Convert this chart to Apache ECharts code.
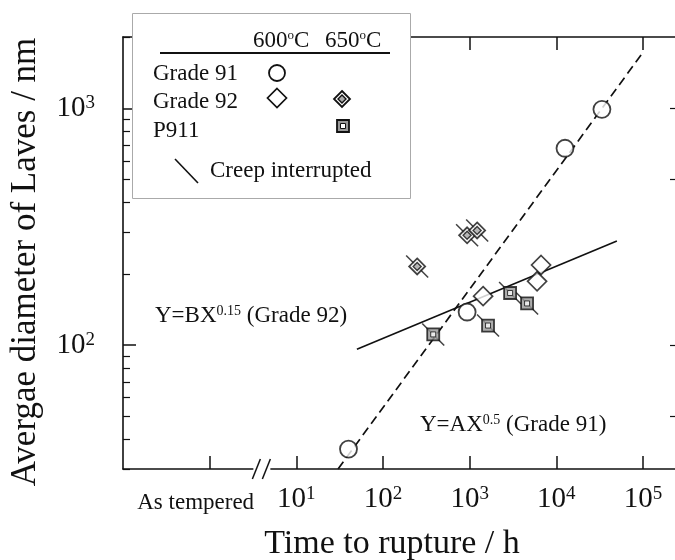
<!DOCTYPE html>
<html><head><meta charset="utf-8">
<script src="https://cdn.jsdelivr.net/npm/echarts@6/dist/echarts.min.js"></script>
<style>html,body{margin:0;padding:0;background:#fff}#c{width:675px;height:560px}</style>
</head><body><div id="c"></div>
<script>
// ---- data (time to rupture / h, average Laves diameter / nm) ----
const grade91_600_time = [40, 935, 12600, 33600];
const grade91_600_diam = [36.4, 138, 678, 990];
const grade92_600_time = [1430, 6000, 6670];
const grade92_600_diam = [161, 186, 218];
const grade92_650_time = [248, 935, 1220];
const grade92_650_diam = [215, 291, 305];
const p911_650_time = [380, 1630, 2930, 4600];
const p911_650_diam = [111, 121, 166, 150];
// fitted lines (end points)
const fitA_time = [30.3, 100000];
const fitA_diam = [30, 1722];
const fitB_time = [50, 50000];
const fitB_diam = [96, 275];
// axes
const xTickValues = [1, 10, 100, 1000, 10000, 100000];
const xTickLabels = ['As tempered', '10^1', '10^2', '10^3', '10^4', '10^5'];
const yMajorValues = [100, 1000];
const yMajorLabels = ['10^2', '10^3'];
const yMinorValues = [30, 40, 50, 60, 70, 80, 90, 200, 300, 400, 500, 600, 700, 800, 900, 2000];
const yRightValues = [50, 100, 500, 1000];
const xMin = 0.1, xMax = 247000, yMin = 30, yMax = 2000;
const BREAK_AT = 3.95;

const FONT = "'Liberation Serif', 'Times New Roman', serif";
const INK = '#111';
const pairs = (xs, ys) => xs.map((x, i) => [x, ys[i]]);
function supLabel(s) {
  const p = s.split('^');
  return p.length > 1 ? '{b|' + p[0] + '}{s|' + p[1] + '}' : '{at|' + s + '}';
}
function findLabel(vals, labels, v) {
  const i = vals.findIndex(t => Math.abs(Math.log10(t) - Math.log10(v)) < 1e-6);
  return i < 0 ? '' : supLabel(labels[i]);
}
const tickRich = {
  b: { fontSize: 29, fontFamily: FONT, color: INK },
  s: { fontSize: 19, fontFamily: FONT, color: INK, verticalAlign: 'top' },
  at: { fontSize: 23, fontFamily: FONT, color: INK, padding: [6, 28, 0, 0] }
};
const lineAx = { show: true, onZero: false, lineStyle: { color: INK, width: 1.6 } };
const SLASH = 'path://M0,0L10,10';

const chart = echarts.init(document.getElementById('c'), null, { renderer: 'canvas' });
const option = {
  backgroundColor: '#fff',
  animation: false,
  grid: { left: 123, top: 37, right: -2, bottom: 91, containLabel: false, outerBoundsMode: 'none' },
  xAxis: [
    { type: 'log', min: xMin, max: xMax, position: 'bottom',
      axisLine: lineAx,
      axisTick: { show: true, inside: true, length: 13, customValues: xTickValues, lineStyle: { color: INK, width: 1.5 } },
      axisLabel: { show: true, customValues: xTickValues, margin: 16, rich: tickRich,
        formatter: v => findLabel(xTickValues, xTickLabels, v) },
      splitLine: { show: false }, minorTick: { show: false },
      name: 'Time to rupture / h', nameLocation: 'middle', nameGap: 58,
      nameTextStyle: { fontSize: 34, fontFamily: FONT, color: INK, padding: [0, 16, 0, 0] } },
    { type: 'log', min: xMin, max: xMax, position: 'top',
      axisLine: lineAx,
      axisTick: { show: true, inside: true, length: 13, customValues: xTickValues, lineStyle: { color: INK, width: 1.5 } },
      axisLabel: { show: false }, splitLine: { show: false } }
  ],
  yAxis: [
    { type: 'log', min: yMin, max: yMax, position: 'left',
      axisLine: lineAx,
      axisTick: { show: true, inside: true, length: 13, customValues: yMajorValues, lineStyle: { color: INK, width: 1.5 } },
      axisLabel: { show: true, customValues: yMajorValues, margin: 28, rich: tickRich,
        formatter: v => findLabel(yMajorValues, yMajorLabels, v) },
      splitLine: { show: false },
      name: 'Avergae diameter of Laves / nm', nameLocation: 'middle', nameGap: 80,
      nameTextStyle: { fontSize: 35, fontFamily: FONT, color: INK, padding: [0, 18, 0, 0] } },
    { type: 'log', min: yMin, max: yMax, position: 'left',
      axisLine: { show: false },
      axisTick: { show: true, inside: true, length: 7, customValues: yMinorValues, lineStyle: { color: INK, width: 1.2 } },
      axisLabel: { show: false }, splitLine: { show: false } },
    { type: 'log', min: yMin, max: yMax, position: 'right',
      axisLine: lineAx,
      axisTick: { show: true, inside: true, length: 7, customValues: yRightValues, lineStyle: { color: INK, width: 1.2 } },
      axisLabel: { show: false }, splitLine: { show: false } }
  ],
  series: [
    { type: 'line', name: 'fitA', data: pairs(fitA_time, fitA_diam), showSymbol: false, symbol: 'none', z: 1,
      lineStyle: { color: INK, width: 1.7, type: [9, 5] }, silent: true },
    { type: 'line', name: 'fitB', data: pairs(fitB_time, fitB_diam), showSymbol: false, symbol: 'none', z: 1,
      lineStyle: { color: INK, width: 1.6 }, silent: true },
    // creep interrupted slashes
    { type: 'scatter', data: pairs(grade92_650_time, grade92_650_diam), symbol: SLASH, symbolSize: 22, z: 2,
      itemStyle: { color: 'rgba(0,0,0,0)', borderColor: INK, borderWidth: 1.5 } },
    { type: 'scatter', data: pairs(p911_650_time, p911_650_diam), symbol: SLASH, symbolSize: 22, z: 2,
      itemStyle: { color: 'rgba(0,0,0,0)', borderColor: INK, borderWidth: 1.5 } },
    // Grade 91, 600C
    { type: 'scatter', data: pairs(grade91_600_time, grade91_600_diam), symbol: 'circle', symbolSize: 17, z: 3,
      itemStyle: { color: '#fff', borderColor: INK, borderWidth: 1.8 } },
    // Grade 92, 600C
    { type: 'scatter', data: pairs(grade92_600_time, grade92_600_diam), symbol: 'diamond', symbolSize: 19, z: 3,
      itemStyle: { color: '#fff', borderColor: INK, borderWidth: 1.7 } },
    // Grade 92, 650C
    { type: 'scatter', data: pairs(grade92_650_time, grade92_650_diam), symbol: 'diamond', symbolSize: 16, z: 3,
      itemStyle: { color: '#fff', borderColor: INK, borderWidth: 1.8 } },
    { type: 'scatter', data: pairs(grade92_650_time, grade92_650_diam), symbol: 'diamond', symbolSize: 8, z: 4,
      itemStyle: { color: '#aaa', borderColor: INK, borderWidth: 1.4 } },
    // P911, 650C
    { type: 'scatter', data: pairs(p911_650_time, p911_650_diam), symbol: 'rect', symbolSize: 12, z: 3,
      itemStyle: { color: '#999', borderColor: INK, borderWidth: 1.8 } },
    { type: 'scatter', data: pairs(p911_650_time, p911_650_diam), symbol: 'rect', symbolSize: 5, z: 4,
      itemStyle: { color: '#fff', borderColor: INK, borderWidth: 1 } }
  ]
};
chart.setOption(option);

// ---- decorations: legend table, fit annotations, axis break ----
const txt = (x, y, text, rich, size) => ({
  type: 'text', x: x, y: y, z: 101,
  style: { text: text, font: (size || 23) + 'px ' + FONT, fill: INK, verticalAlign: 'middle', align: 'left', rich: rich || {} }
});
const degRich = { o: { fontSize: 13, fontFamily: FONT, fill: INK, verticalAlign: 'top' } };
const annRich = { s: { fontSize: 14, fontFamily: FONT, fill: INK, verticalAlign: 'top' } };
const diamondPts = (cx, cy, r) => [[cx, cy - r], [cx + r, cy], [cx, cy + r], [cx - r, cy]];
const g = [];
g.push({ type: 'rect', z: 100, shape: { x: 132.5, y: 13.5, width: 278, height: 185 }, style: { fill: '#fff', stroke: '#aaa', lineWidth: 1 } });
g.push(txt(253, 41, '600{o|o}C', degRich));
g.push(txt(325, 41, '650{o|o}C', degRich));
g.push({ type: 'line', z: 101, shape: { x1: 160, y1: 53, x2: 390, y2: 53 }, style: { stroke: INK, lineWidth: 2 } });
g.push(txt(153, 74, 'Grade 91'));
g.push(txt(153, 102, 'Grade 92'));
g.push(txt(153, 131, 'P911'));
g.push(txt(210, 171, 'Creep interrupted'));
g.push({ type: 'circle', z: 101, shape: { cx: 277, cy: 73, r: 8 }, style: { fill: '#fff', stroke: INK, lineWidth: 1.8 } });
g.push({ type: 'polygon', z: 101, shape: { points: diamondPts(277, 98, 9.5) }, style: { fill: '#fff', stroke: INK, lineWidth: 1.7 } });
g.push({ type: 'polygon', z: 101, shape: { points: diamondPts(342, 99, 8) }, style: { fill: '#fff', stroke: INK, lineWidth: 1.8 } });
g.push({ type: 'polygon', z: 102, shape: { points: diamondPts(342, 99, 4) }, style: { fill: '#aaa', stroke: INK, lineWidth: 1.4 } });
g.push({ type: 'rect', z: 101, shape: { x: 337, y: 120, width: 12, height: 12 }, style: { fill: '#999', stroke: INK, lineWidth: 1.8 } });
g.push({ type: 'rect', z: 102, shape: { x: 340.5, y: 123.5, width: 5, height: 5 }, style: { fill: '#fff', stroke: INK, lineWidth: 1 } });
g.push({ type: 'line', z: 101, shape: { x1: 175, y1: 159, x2: 198, y2: 183 }, style: { stroke: INK, lineWidth: 1.6 } });
// annotations
g.push(txt(155, 316, '{n|Y=BX}{s|0.15}{n| (Grade 92)}', Object.assign({ n: { fontSize: 23, fontFamily: FONT, fill: INK } }, annRich)));
g.push(txt(420, 425, '{n|Y=AX}{s|0.5}{n| (Grade 91)}', Object.assign({ n: { fontSize: 23, fontFamily: FONT, fill: INK } }, annRich)));
// axis break
const bx = chart.convertToPixel({ xAxisIndex: 0 }, BREAK_AT);
const by = chart.convertToPixel({ yAxisIndex: 0 }, yMin);
g.push({ type: 'rect', z: 100, shape: { x: bx - 8, y: by - 3, width: 17, height: 6 }, style: { fill: '#fff' } });
g.push({ type: 'line', z: 101, shape: { x1: bx - 9, y1: by + 10, x2: bx - 1, y2: by - 10 }, style: { stroke: INK, lineWidth: 1.5 } });
g.push({ type: 'line', z: 101, shape: { x1: bx + 1, y1: by + 10, x2: bx + 9, y2: by - 10 }, style: { stroke: INK, lineWidth: 1.5 } });
chart.setOption({ graphic: g });
</script>
</body></html>
